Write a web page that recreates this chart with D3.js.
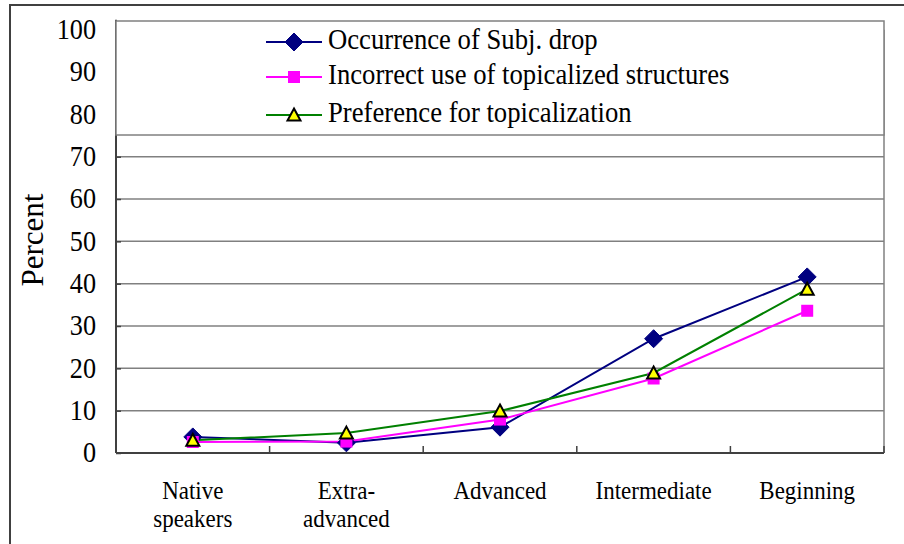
<!DOCTYPE html>
<html>
<head>
<meta charset="utf-8">
<script src="https://cdn.jsdelivr.net/npm/d3@7"></script>
</head>
<body style="margin:0;padding:0;background:#fff;">
<svg id="chart" width="904" height="544" style="display:block"></svg>
<script>
const categories = [["Native","speakers"],["Extra-","advanced"],["Advanced"],["Intermediate"],["Beginning"]];
const categoryKeys = ["Native speakers","Extra-advanced","Advanced","Intermediate","Beginning"];
const subjDrop = [3.8, 2.4, 6.1, 27.0, 41.6];
const incorrectTopic = [2.6, 2.7, 7.9, 17.6, 33.6];
const prefTopic = [3.0, 4.7, 9.9, 18.9, 38.7];
const yTicks = [0,10,20,30,40,50,60,70,80,90,100];
const seriesNames = ["Occurrence of Subj. drop","Incorrect use of topicalized structures","Preference for topicalization"];

const FONT = '"Liberation Serif", "Times New Roman", Tinos, serif';
const svg = d3.select("#chart");
const L = 116, R = 884, B = 453, T = 29.7;
const SX = 0.92; // horizontal squeeze of the reference's text

const x = d3.scaleBand().domain(categoryKeys).range([L, R]);
const y = d3.scaleLinear().domain([0, 100]).range([B, T]);

// outer frame
svg.append("rect").attr("x",10).attr("y",5).attr("width",920).attr("height",600)
  .attr("fill","#fff").attr("stroke","#404040").attr("stroke-width",2);

// gridlines
svg.append("g").selectAll("line").data(yTicks.filter(d => d > 0))
  .join("line")
  .attr("x1", L).attr("x2", R)
  .attr("y1", d => y(d)).attr("y2", d => y(d))
  .attr("stroke", "#808080").attr("stroke-width", 1.5);

// right border of plot
svg.append("line").attr("x1",R).attr("x2",R).attr("y1",T).attr("y2",B)
  .attr("stroke","#808080").attr("stroke-width",1.5);

// y axis ticks
const yAxis = d3.axisRight(y).tickValues(yTicks).tickSize(5).tickFormat("");
const yg = svg.append("g").attr("transform",`translate(${L},0)`).call(yAxis);
yg.select(".domain").remove();
yg.selectAll("line").attr("stroke","#404040").attr("stroke-width",1.5);
svg.append("line").attr("x1",L).attr("x2",L).attr("y1",T - 10).attr("y2",B)
  .attr("stroke","#404040").attr("stroke-width",2);

svg.append("g").selectAll("text").data(yTicks).join("text")
  .attr("transform", d => `translate(96,${y(d) + 9.3}) scale(${SX},1)`)
  .attr("text-anchor","end").attr("font-size", 28.5)
  .style("font-family", FONT)
  .text(d => d);

// x axis
const boundaries = categoryKeys.map(k => x(k)).concat([R]);
svg.append("g").selectAll("line").data(boundaries).join("line")
  .attr("x1", d => d).attr("x2", d => d)
  .attr("y1", B).attr("y2", B - 7)
  .attr("stroke","#404040").attr("stroke-width",1.5);
svg.append("line").attr("x1",L).attr("x2",R).attr("y1",B).attr("y2",B)
  .attr("stroke","#404040").attr("stroke-width",2);

const cx = k => x(k) + x.bandwidth()/2;
const catG = svg.append("g").selectAll("text").data(categories).join("text")
  .attr("text-anchor","middle").attr("font-size", 25)
  .style("font-family", FONT)
  .attr("transform", (d,i) => `translate(${cx(categoryKeys[i])},499) scale(${SX},1)`);
catG.selectAll("tspan").data(d => d).join("tspan")
  .attr("x", 0).attr("dy", (d,i) => i === 0 ? 0 : 28)
  .text(d => d);

// y title
svg.append("text").attr("transform","translate(43,240) rotate(-90)")
  .attr("text-anchor","middle").attr("font-size",31)
  .style("font-family", FONT).text("Percent");

// legend box (covers top of plot)
svg.append("rect").attr("x",L).attr("y",21).attr("width",R-L).attr("height",114)
  .attr("fill","#fff").attr("stroke","#808080").attr("stroke-width",1.5);

const series = [
  {name: seriesNames[0], values: subjDrop, color: "#000080", marker: "diamond"},
  {name: seriesNames[1], values: incorrectTopic, color: "#FF00FF", marker: "square"},
  {name: seriesNames[2], values: prefTopic, color: "#008000", marker: "triangle"}
];

function drawMarker(g, type, color, px, py) {
  if (type === "diamond") {
    g.append("path").attr("d", `M${px},${py-9}L${px+9},${py}L${px},${py+9}L${px-9},${py}Z`)
      .attr("fill", color).attr("stroke", color).attr("stroke-width",1);
  } else if (type === "square") {
    g.append("rect").attr("x", px-6).attr("y", py-6).attr("width",12).attr("height",12)
      .attr("fill", color);
  } else {
    g.append("path").attr("d", `M${px},${py-6.5}L${px+6.5},${py+5.5}L${px-6.5},${py+5.5}Z`)
      .attr("fill", "#FFFF00").attr("stroke", "#000").attr("stroke-width",2).attr("stroke-linejoin","miter");
  }
}

const line = d3.line().x((d,i) => cx(categoryKeys[i])).y(d => y(d));

series.forEach(s => {
  svg.append("path").datum(s.values).attr("d", line)
    .attr("fill","none").attr("stroke", s.color).attr("stroke-width",2);
});
series.forEach(s => {
  const g = svg.append("g");
  s.values.forEach((v,i) => drawMarker(g, s.marker, s.color, cx(categoryKeys[i]), y(v)));
});

// legend entries
const rowsY = [42, 77, 115];
series.forEach((s, i) => {
  const g = svg.append("g");
  g.append("line").attr("x1",266).attr("x2",322).attr("y1",rowsY[i]).attr("y2",rowsY[i])
    .attr("stroke", s.color).attr("stroke-width",2);
  drawMarker(g, s.marker, s.color, 294, rowsY[i]);
  g.append("text").attr("transform", `translate(328,${rowsY[i] + 7}) scale(${SX},1)`)
    .attr("font-size",29)
    .style("font-family", FONT).text(s.name);
});
</script>
</body>
</html>
